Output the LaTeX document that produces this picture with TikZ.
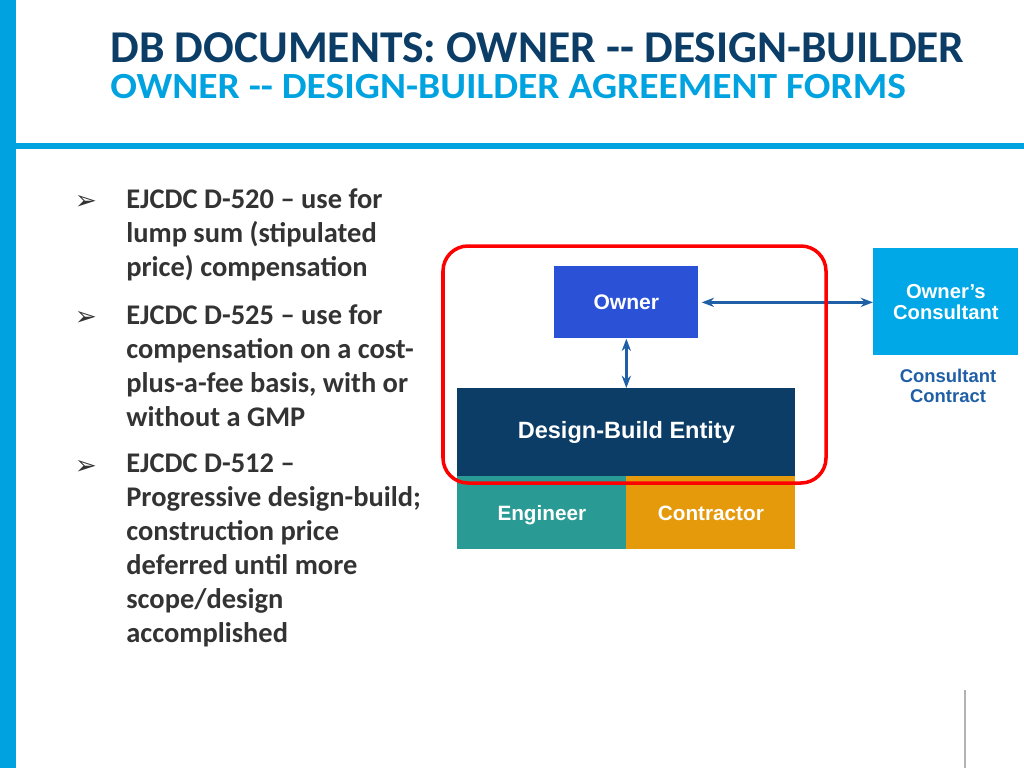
\documentclass[tikz,border=0pt]{standalone}
\usepackage{fontspec}
\setmainfont{Carlito}
\newfontfamily\diagfont{Liberation Sans}
\newfontfamily\symfont{DejaVu Sans}
\usetikzlibrary{arrows.meta}
\definecolor{barblue}{HTML}{00A3E0}
\definecolor{navy}{HTML}{0B3D66}
\definecolor{ownerblue}{HTML}{2B52D6}
\definecolor{consblue}{HTML}{00A8E8}
\definecolor{linkblue}{HTML}{1F5FA6}
\definecolor{engteal}{HTML}{2A9A94}
\definecolor{conorange}{HTML}{E59A0C}
\definecolor{textgrey}{HTML}{333333}
\begin{document}
\begin{tikzpicture}[x=0.02cm, y=-0.02cm,
    box/.style={draw=none, anchor=north west, inner sep=0pt, text=white, font=\diagfont\bfseries\fontsize{12}{13}\selectfont, align=center},
    arr/.style={draw=linkblue, line width=1.5pt, {Stealth[length=7pt]}-{Stealth[length=7pt]}},
    bul/.style={anchor=north west, text=textgrey, font=\bfseries\fontsize{16.2}{19.4}\selectfont, align=left, inner sep=0pt}]
  \useasboundingbox (0,0) rectangle (1024,768);
  \fill[barblue] (0,0) rectangle (16,768);
  \fill[barblue] (16,143) rectangle (1024,149);
  \node[anchor=base west, text=navy, font=\bfseries\fontsize{25.9}{28}\selectfont, inner sep=0pt, text depth=0pt] (title) at (110,62) {DB DOCUMENTS: OWNER {-}{-} DESIGN-BUILDER};
  \node[anchor=base west, text=barblue, font=\bfseries\fontsize{21}{22}\selectfont, inner sep=0pt, text height=12pt, xscale=1.07] (subtitle) at (110,98) {OWNER {-}{-} DESIGN-BUILDER AGREEMENT FORMS};

  % bullets
  \foreach \y/\txt in {188/{EJCDC D-520 -- use for\\lump sum (stipulated\\price) compensation},
                       304/{EJCDC D-525 -- use for\\compensation on a cost-\\plus-a-fee basis, with or\\without a GMP},
                       453/{EJCDC D-512 --\\Progressive design-build;\\construction price\\deferred until more\\scope/design\\accomplished}} {
    \node[text=textgrey, font=\symfont\fontsize{15}{15}\selectfont, inner sep=0pt] at (86,\y+14) {➢};
    \node[bul] at (126,\y) {\txt};
  }

  % diagram
  \node[box, fill=ownerblue, minimum width=144*0.02cm, minimum height=72*0.02cm] (owner) at (554,266) {Owner};
  \node[box, fill=consblue, minimum width=145*0.02cm, minimum height=107*0.02cm, font=\diagfont\bfseries\fontsize{11.5}{12}\selectfont] (cons) at (873,248) {Owner’s\\Consultant};
  \node[text=linkblue, font=\diagfont\bfseries\fontsize{10.5}{11}\selectfont, align=center] (contract) at (948,386) {Consultant\\Contract};
  \node[box, fill=navy, minimum width=338*0.02cm, minimum height=88*0.02cm, font=\diagfont\bfseries\fontsize{13.4}{14}\selectfont] (dbe) at (457,388) {Design-Build Entity};
  \node[box, fill=engteal, minimum width=169*0.02cm, minimum height=73*0.02cm, text depth=0pt, font=\diagfont\bfseries\fontsize{11.8}{12}\selectfont] (eng) at (457,476) {Engineer};
  \node[box, fill=conorange, minimum width=169*0.02cm, minimum height=73*0.02cm, text depth=0pt, font=\diagfont\bfseries\fontsize{11.8}{12}\selectfont] (contr) at (626,476) {Contractor};

  \draw[arr] (owner.east) ++(3,0) coordinate (oe) -- (cons.west |- oe);
  \draw[arr] (owner.south) -- (dbe.north);
  \draw[red, line width=2pt, rounded corners=25*0.02cm] (443,246) rectangle (826,483);
  \draw[gray!60, line width=1.5pt] (965,690) -- (965,768);
\end{tikzpicture}
\end{document}
